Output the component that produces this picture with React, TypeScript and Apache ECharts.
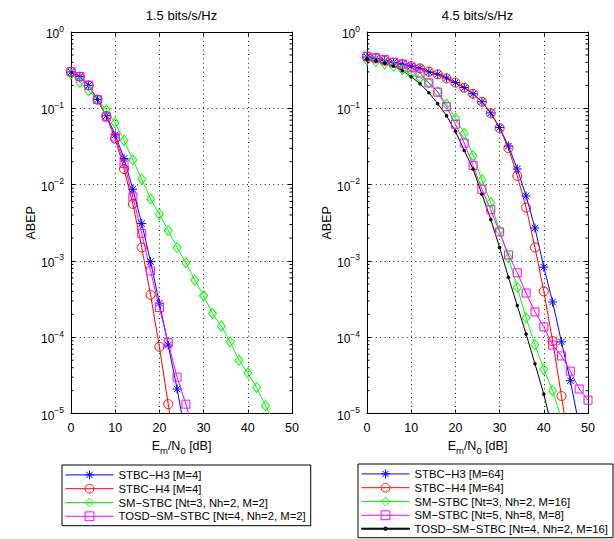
import React, { useEffect, useRef } from "react";
import * as echarts from "echarts";

// Eb/N0 grid (dB), markers every 2 dB
const SNR = [0, 2, 4, 6, 8, 10, 12, 14, 16, 18, 20, 22, 24, 26, 28, 30, 32, 34, 36, 38, 40, 42, 44, 46, 48, 50];
const X_TICKS = [0, 10, 20, 30, 40, 50];
const Y_MIN = 1e-5;
const Y_MAX = 1;
const MINOR_TICKS = [2, 3, 4, 5, 6, 7, 8, 9];

const TITLES = ["1.5 bits/s/Hz", "4.5 bits/s/Hz"];

// Left panel: 1.5 bits/s/Hz
const L_NAMES = [
  "STBC−H3 [M=4]",
  "STBC−H4 [M=4]",
  "SM−STBC [Nt=3, Nh=2, M=2]",
  "TOSD−SM−STBC [Nt=4, Nh=2, M=2]",
];
const L_STBC_H3 = [0.30, 0.26, 0.20, 0.13, 0.08, 0.045, 0.022, 0.0087, 0.0031, 0.00098, 0.00028, 0.000079, 0.000021, 0.000005];
const L_STBC_H4 = [0.30, 0.26, 0.20, 0.13, 0.079, 0.04, 0.016, 0.0056, 0.0015, 0.00036, 0.000075, 0.0000133, 0.0000022];
const L_SM_STBC = [0.28, 0.22, 0.17, 0.13, 0.095, 0.064, 0.038, 0.021, 0.0118, 0.0065, 0.0041, 0.0025, 0.0015, 0.00095, 0.00056, 0.00035, 0.000205, 0.00014, 0.000087, 0.00005, 0.000034, 0.000022, 0.0000127, 0.0000075];
const L_TOSD = [0.30, 0.26, 0.20, 0.13, 0.077, 0.042, 0.019, 0.0069, 0.0023, 0.00074, 0.000245, 0.000085, 0.00003, 0.0000133, 0.000005];

// Right panel: 4.5 bits/s/Hz
const R_NAMES = [
  "STBC−H3 [M=64]",
  "STBC−H4 [M=64]",
  "SM−STBC [Nt=3, Nh=2, M=16]",
  "SM−STBC [Nt=5, Nh=8, M=8]",
  "TOSD−SM−STBC [Nt=4, Nh=2, M=16]",
];
const R_STBC_H3 = [0.47, 0.45, 0.42, 0.40, 0.38, 0.36, 0.335, 0.30, 0.28, 0.25, 0.218, 0.187, 0.155, 0.122, 0.087, 0.056, 0.032, 0.016, 0.0071, 0.0027, 0.00083, 0.00029, 0.000087, 0.000027, 0.000007];
const R_STBC_H4 = [0.475, 0.45, 0.42, 0.396, 0.377, 0.358, 0.334, 0.302, 0.279, 0.247, 0.217, 0.186, 0.155, 0.122, 0.086, 0.055, 0.030, 0.013, 0.005, 0.0015, 0.0004, 0.000089, 0.000017, 0.000003];
const R_SM_STBC_16 = [0.43, 0.41, 0.38, 0.355, 0.32, 0.28, 0.25, 0.217, 0.165, 0.113, 0.074, 0.047, 0.024, 0.0115, 0.0058, 0.0025, 0.0011, 0.00045, 0.00018, 0.00008, 0.000038, 0.00002, 0.0000085];
const R_SM_STBC_8 = [0.48, 0.46, 0.435, 0.40, 0.38, 0.34, 0.29, 0.215, 0.163, 0.105, 0.062, 0.035, 0.0178, 0.0087, 0.0047, 0.0024, 0.0012, 0.0007, 0.00038, 0.000215, 0.000137, 0.000079, 0.000057, 0.000036, 0.000021, 0.000015];
const R_TOSD = [0.44, 0.42, 0.39, 0.36, 0.31, 0.26, 0.21, 0.16, 0.115, 0.08, 0.05, 0.028, 0.016, 0.0075, 0.0035, 0.0015, 0.00061, 0.00026, 0.00011, 0.000045, 0.000018, 0.000006];

const FONT = "Liberation Sans, Arial, Helvetica, sans-serif";
const STAR = "path://M0,-5L0,5M-5,0L5,0M-3.6,-3.6L3.6,3.6M-3.6,3.6L3.6,-3.6";
// legend icon for line with small dot (line + dot marker)
const DOT_LINE_ICON = "path://M0,5L48,5L48,6L0,6Z M22.3,5.5 A1.7,1.7 0 1,0 25.7,5.5 A1.7,1.7 0 1,0 22.3,5.5 Z";

const GRIDS = [
  { left: 71, top: 32, width: 221, height: 381.6 },
  { left: 367, top: 32, width: 221, height: 381.6 },
];

function toPairs(vals: number[]) {
  return vals.map((v, i) => [SNR[i], v]);
}

function mkSeries(name: string, vals: number[], color: string, symbol: string, size: any, gi: number, filled = false) {
  return {
    type: "line",
    name,
    xAxisIndex: gi * 2,
    yAxisIndex: gi * 2,
    data: toPairs(vals),
    symbol,
    symbolSize: size,
    showSymbol: true,
    clip: true,
    color,
    lineStyle: { color, width: 1 },
    itemStyle: filled
      ? { color, borderColor: color, borderWidth: 0 }
      : { color: "none", borderColor: color, borderWidth: 1 },
    emphasis: { disabled: true },
    z: 3,
  };
}

function minorTickValues() {
  const out: number[][] = [];
  for (let e = -5; e < 0; e++) {
    for (const m of MINOR_TICKS) out.push([0, m * Math.pow(10, e)]);
  }
  return out;
}

function minorTickSeries(gi: number) {
  return {
    type: "custom",
    xAxisIndex: gi * 2,
    yAxisIndex: gi * 2,
    data: minorTickValues(),
    silent: true,
    clip: false,
    z: 4,
    renderItem: (_p: any, api: any) => {
      const v = api.value(1);
      const a = api.coord([X_TICKS[0], v]);
      const b = api.coord([X_TICKS[X_TICKS.length - 1], v]);
      return {
        type: "group",
        children: [
          { type: "line", shape: { x1: a[0], y1: a[1], x2: a[0] + 2.5, y2: a[1] }, style: { stroke: "#000", lineWidth: 1 } },
          { type: "line", shape: { x1: b[0] - 2.5, y1: b[1], x2: b[0], y2: b[1] }, style: { stroke: "#000", lineWidth: 1 } },
        ],
      };
    },
  };
}

const supLabel = (v: number) => {
  const e = Math.round(Math.log10(v));
  const s = e < 0 ? "−" + Math.abs(e) : String(e);
  return "{b|10}{s|" + s + "}";
};

const richSup = {
  b: { fontSize: 12, fontFamily: FONT, color: "#000", verticalAlign: "bottom" },
  s: { fontSize: 8.5, fontFamily: FONT, color: "#000", verticalAlign: "top", padding: [0, 0, 7, 0] },
};

const richSub = {
  a: { fontSize: 12.5, fontFamily: FONT, color: "#000", verticalAlign: "top" },
  sub: { fontSize: 9.5, fontFamily: FONT, color: "#000", verticalAlign: "bottom", padding: [6, 0, 0, 0] },
};

function xAxes(gi: number) {
  const base = {
    type: "value",
    gridIndex: gi,
    min: 0,
    max: 50,
    interval: 10,
    axisLine: { show: true, onZero: false, lineStyle: { color: "#000", width: 1 } },
    axisTick: { show: true, inside: true, length: 4, lineStyle: { color: "#000" } },
  };
  return [
    {
      ...base,
      position: "bottom",
      name: "{a|E}{sub|m}{a|/N}{sub|0}{a| [dB]}",
      nameLocation: "middle",
      nameGap: 16,
      nameTextStyle: { rich: richSub },
      axisLabel: { show: true, margin: 8, fontSize: 12.5, fontFamily: FONT, color: "#000" },
      splitLine: { show: true, lineStyle: { color: "#222", width: 1, type: [1, 3.4] } },
    },
    {
      ...base,
      position: "top",
      axisLabel: { show: false },
      splitLine: { show: false },
    },
  ];
}

function yAxes(gi: number) {
  const base = {
    type: "log",
    logBase: 10,
    gridIndex: gi,
    min: Y_MIN,
    max: Y_MAX,
    axisLine: { show: true, onZero: false, lineStyle: { color: "#000", width: 1 } },
    axisTick: { show: true, inside: true, length: 4, lineStyle: { color: "#000" } },
  };
  return [
    {
      ...base,
      position: "left",
      name: "ABEP",
      nameLocation: "middle",
      nameGap: 31,
      nameRotate: 90,
      nameTextStyle: { fontSize: 12.5, fontFamily: FONT, color: "#000" },
      axisLabel: { show: true, margin: 7, formatter: supLabel, rich: richSup },
      splitLine: { show: true, lineStyle: { color: "#222", width: 1, type: [1, 3.4] } },
    },
    {
      ...base,
      position: "right",
      axisLabel: { show: false },
      splitLine: { show: false },
    },
  ];
}

function legendCfg(names: string[], left: number, top: number, dotName?: string) {
  return {
    data: names.map((n) => (n === dotName ? { name: n, icon: DOT_LINE_ICON } : { name: n })),
    orient: "vertical",
    left,
    top,
    height: 120,
    itemWidth: 48,
    itemHeight: 11,
    itemGap: 0,
    itemTextGap: 7,
    symbolKeepAspect: true,
    padding: [3, 5, 2.5, 3],
    borderColor: "#000",
    borderWidth: 1,
    borderRadius: 0,
    backgroundColor: "#fff",
    selectedMode: false,
    itemStyle: { borderWidth: 1 },
    lineStyle: { width: 1 },
    textStyle: { fontSize: 11.3, lineHeight: 13, fontFamily: FONT, color: "#000" },
  };
}

export default function App() {
  const ref = useRef<HTMLDivElement>(null);
  useEffect(() => {
    if (!ref.current) return;
    const chart = echarts.init(ref.current, undefined, { renderer: "svg" });
    const option: any = {
      animation: false,
      backgroundColor: "#fff",
      textStyle: { fontFamily: FONT },
      grid: GRIDS.map((g) => ({ ...g, containLabel: false })),
      xAxis: [...xAxes(0), ...xAxes(1)],
      yAxis: [...yAxes(0), ...yAxes(1)],
      legend: [legendCfg(L_NAMES, 62, 465), legendCfg(R_NAMES, 358, 464, R_NAMES[4])],
      graphic: [
        {
          type: "text",
          x: GRIDS[0].left + GRIDS[0].width / 2,
          y: 15,
          style: { text: TITLES[0], align: "center", verticalAlign: "middle", font: "13px " + FONT, fill: "#000" },
        },
        {
          type: "text",
          x: GRIDS[1].left + GRIDS[1].width / 2,
          y: 15,
          style: { text: TITLES[1], align: "center", verticalAlign: "middle", font: "13px " + FONT, fill: "#000" },
        },
      ],
      series: [
        mkSeries(L_NAMES[0], L_STBC_H3, "#0000ff", STAR, 9, 0),
        mkSeries(L_NAMES[1], L_STBC_H4, "#ff0000", "circle", 9, 0),
        mkSeries(L_NAMES[2], L_SM_STBC, "#00ff00", "diamond", [8, 10], 0),
        mkSeries(L_NAMES[3], L_TOSD, "#ff00ff", "rect", 8, 0),
        minorTickSeries(0),
        mkSeries(R_NAMES[0], R_STBC_H3, "#0000ff", STAR, 9, 1),
        mkSeries(R_NAMES[1], R_STBC_H4, "#ff0000", "circle", 9, 1),
        mkSeries(R_NAMES[2], R_SM_STBC_16, "#00ff00", "diamond", [8, 10], 1),
        mkSeries(R_NAMES[3], R_SM_STBC_8, "#ff00ff", "rect", 8, 1),
        mkSeries(R_NAMES[4], R_TOSD, "#000000", "circle", 3.5, 1, true),
        minorTickSeries(1),
      ],
    };
    chart.setOption(option);
    return () => chart.dispose();
  }, []);
  return (
    <div
      ref={ref}
      style={{ position: "fixed", left: 0, top: 0, width: 614, height: 539, background: "#fff" }}
    />
  );
}
